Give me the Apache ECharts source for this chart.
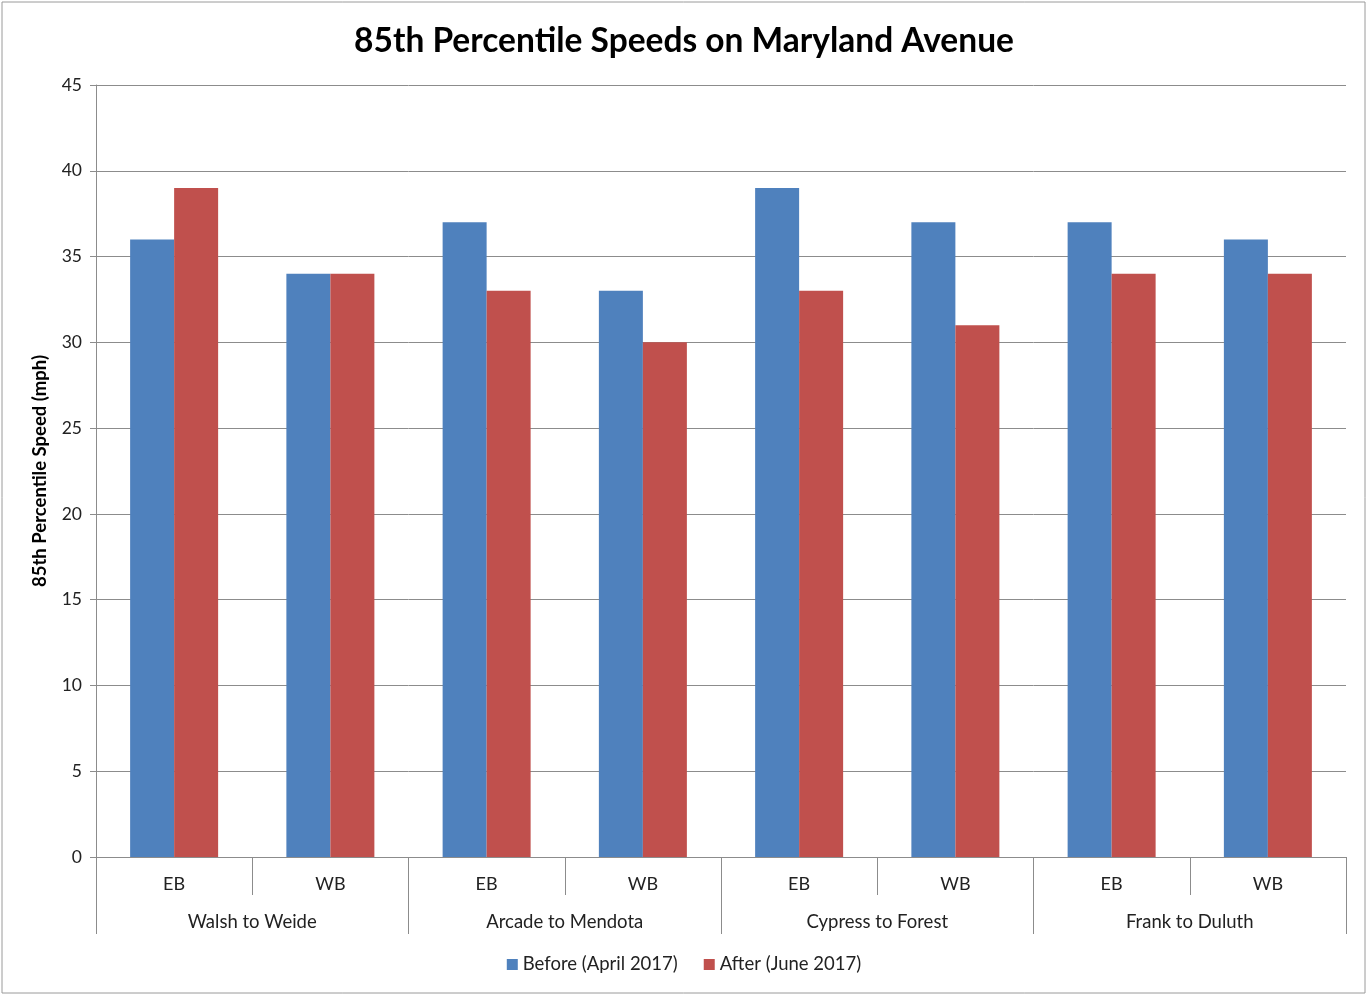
<!DOCTYPE html>
<html>
<head>
<meta charset="utf-8">
<script src="https://cdn.jsdelivr.net/npm/echarts@6/dist/echarts.min.js"></script>
<style>html,body{margin:0;padding:0;background:#fff;}#c{width:1368px;height:995px;}</style>
</head>
<body>
<div id="c"></div>
<script>
const directions = ['EB','WB','EB','WB','EB','WB','EB','WB'];
const segments = ['Walsh to Weide','Arcade to Mendota','Cypress to Forest','Frank to Duluth'];
const before = [36,34,37,33,39,37,37,36];
const after = [39,34,33,30,33,31,34,34];
const yTicks = {min:0, max:45, interval:5};
const seriesNames = ['Before (April 2017)','After (June 2017)'];

const FONT = 'Lato';
const chart = echarts.init(document.getElementById('c'));
chart.setOption({
  animation:false,
  textStyle:{fontFamily:FONT},
  title:{text:'85th Percentile Speeds on Maryland Avenue',left:'center',top:19,
    textStyle:{fontSize:33.5,fontWeight:'bold',color:'#000',fontFamily:FONT}},
  legend:{bottom:16,left:'center',itemWidth:11,itemHeight:11,itemGap:26,icon:'rect',
    textStyle:{fontSize:18.5,color:'#222',fontFamily:FONT}},
  grid:{left:96,right:22,top:85,bottom:138,containLabel:false},
  graphic:[{type:'rect',shape:{x:2,y:2,width:1363,height:991},style:{fill:'none',stroke:'#9a9a9a',lineWidth:1},silent:true,z:-1}],
  xAxis:[
    {type:'category',data:directions,position:'bottom',
     axisLine:{show:true,lineStyle:{color:'#8c8c8c',width:1}},
     axisTick:{show:true,interval:0,length:38,lineStyle:{color:'#8c8c8c'}},
     axisLabel:{interval:0,margin:18,fontSize:18,color:'#222',fontFamily:FONT}},
    {type:'category',data:segments,position:'bottom',
     axisLine:{show:false},
     axisTick:{show:true,interval:0,length:77,lineStyle:{color:'#8c8c8c'}},
     axisLabel:{interval:0,margin:56,fontSize:18.5,color:'#222',fontFamily:FONT}}
  ],
  yAxis:{type:'value',min:yTicks.min,max:yTicks.max,interval:yTicks.interval,
    name:'85th Percentile Speed (mph)',nameLocation:'middle',nameRotate:90,nameGap:46,
    nameTextStyle:{fontSize:18.5,fontWeight:'bold',color:'#000',fontFamily:FONT},
    axisLine:{show:true,lineStyle:{color:'#8c8c8c'}},
    axisTick:{show:true,length:6,lineStyle:{color:'#8c8c8c'}},
    axisLabel:{fontSize:17.5,color:'#222',margin:14,fontFamily:FONT},
    splitLine:{show:true,lineStyle:{color:'#8c8c8c',width:1}}},
  series:[
    {name:seriesNames[0],type:'bar',xAxisIndex:0,data:before,barWidth:44,barGap:'0%',
     itemStyle:{color:'#4F81BD'}},
    {name:seriesNames[1],type:'bar',xAxisIndex:0,data:after,barWidth:44,barGap:'0%',
     itemStyle:{color:'#C0504D'}}
  ]
});
</script>
</body>
</html>
